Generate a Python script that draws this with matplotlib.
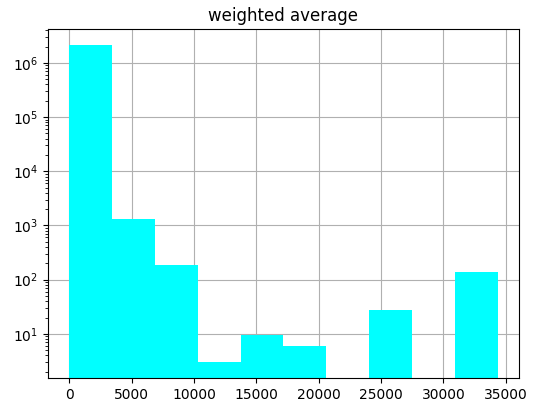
import numpy as np
import matplotlib
matplotlib.use('Agg')
import matplotlib.pyplot as plt

# histogram of weighted average values, 10 equal bins
bin_edges = np.linspace(0, 34350, 11)
bin_counts = [2150000, 1330, 190, 3, 9.7, 6, 0, 27, 0, 136]

fig = plt.figure(figsize=(5.35, 4.03), dpi=100)
ax = fig.add_subplot(111)
fig.subplots_adjust(left=0.0897, right=0.970, top=0.928, bottom=0.062)

ax.hist(bin_edges[:-1], bins=bin_edges, weights=bin_counts, log=True, color='cyan')
ax.grid(True)
ax.set_axisbelow(True)
ax.set_title('weighted average')

fig.savefig('out.png', dpi=100)
